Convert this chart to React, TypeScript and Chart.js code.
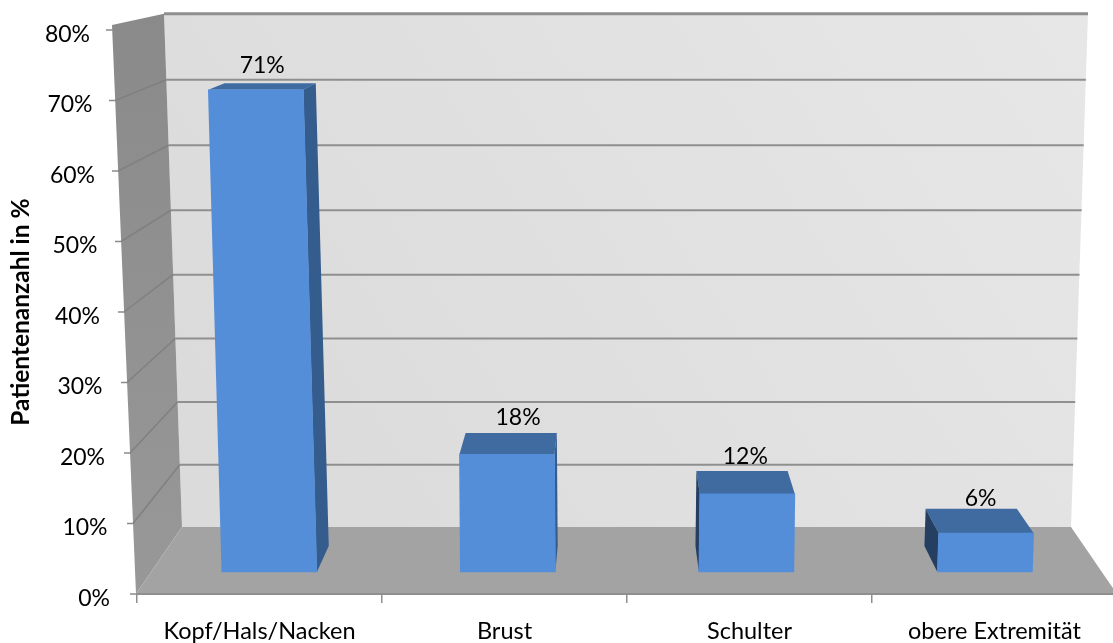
import React, { useEffect, useRef } from "react";
import { Chart, registerables, LinearScale, BarElement } from "chart.js";

const categories = ["Kopf/Hals/Nacken", "Brust", "Schulter", "obere Extremität"];
const patientPercent = [71, 18, 12, 6];
const axisMax = 80;
const axisStep = 10;
const axisTitle = "Patientenanzahl in %";
const fontFamily = "Lato, 'Open Sans', sans-serif";

// Perspective parameters of the 3D scene
const VANISH = { x: 614, y: -78 };
const DEPTH = 0.04;
const LEAN_CENTER = 600;
const LEAN = 8.5e-5;
const frontX = (v: number) => 136 - v * 0.3;
const backLeftX = (v: number) => 182 - v * 0.225;
const backRightX = (v: number) => 1071 + v * 0.2125;
const backY = (v: number) => 527 - 6.2 * v - 0.0027 * v * v;
// small hand adjustments of the value labels relative to their bars
const labelNudgeX = [1, 9.5, 0, 0];
const labelNudgeY = [0, -1, 0, 4];

class FloorDepthScale extends LinearScale {
  static id = "floorDepth";
  static defaults = LinearScale.defaults;
  getPixelForValue(v: number) {
    return this.bottom - 22 - 6.45 * v - 0.0048 * v * v;
  }
}

Chart.register(...registerables, FloorDepthScale);

const poly = (ctx: CanvasRenderingContext2D, pts: number[][], fill: string) => {
  ctx.beginPath();
  pts.forEach((p, i) => (i ? ctx.lineTo(p[0], p[1]) : ctx.moveTo(p[0], p[1])));
  ctx.closePath();
  ctx.fillStyle = fill;
  ctx.fill();
};
const extrude = (p: number[]) => [p[0] + DEPTH * (VANISH.x - p[0]), p[1] + DEPTH * (VANISH.y - p[1])];
const leanOf = (x: number) => (x - LEAN_CENTER) * LEAN;

const scenePlugin = {
  id: "scene3d",
  beforeDraw(chart: any) {
    const ctx: CanvasRenderingContext2D = chart.ctx;
    const y = chart.scales.y;
    const tickValues: number[] = y.ticks.map((t: any) => t.value);

    const items = y.getLabelItems();
    if (!items.__shifted) {
      items.forEach((it: any, i: number) => {
        it.options.translation[0] -= 27 + tickValues[i] * 0.25;
        it.options.translation[1] += 4.5;
      });
      items.__shifted = true;
    }

    ctx.save();
    // back wall
    const wall = ctx.createLinearGradient(1088, 14, 300, 527);
    wall.addColorStop(0, "#e7e7e7");
    wall.addColorStop(1, "#dbdbdb");
    poly(ctx, [[backLeftX(80), backY(80)], [backRightX(80), backY(80)], [backRightX(0), backY(0)], [backLeftX(0), backY(0)]], wall as any);
    // side wall
    const side = ctx.createLinearGradient(0, 20, 0, 590);
    side.addColorStop(0, "#8a8a8a");
    side.addColorStop(1, "#989898");
    poly(ctx, [
      [frontX(80), y.getPixelForValue(80) - 5],
      [backLeftX(80), backY(80)],
      [backLeftX(0), backY(0)],
      [frontX(0), y.getPixelForValue(0)],
    ], side as any);
    // floor
    poly(ctx, [
      [frontX(0), y.getPixelForValue(0)],
      [backLeftX(0), backY(0)],
      [backRightX(0), backY(0)],
      [1117, y.getPixelForValue(0)],
    ], "#a3a3a3");
    // gridlines
    tickValues.forEach((v) => {
      if (v > 0) {
        ctx.beginPath();
        ctx.moveTo(backLeftX(v), backY(v));
        ctx.lineTo(backRightX(v), backY(v));
        ctx.strokeStyle = "#8f8f8f";
        ctx.lineWidth = v === axisMax ? 3 : 2;
        ctx.stroke();
        if (v < axisMax) {
          ctx.beginPath();
          ctx.moveTo(frontX(v), y.getPixelForValue(v));
          ctx.lineTo(backLeftX(v), backY(v));
          ctx.strokeStyle = "#808080";
          ctx.lineWidth = 1.5;
          ctx.stroke();
        }
      }
      ctx.beginPath();
      ctx.moveTo(frontX(v) - 6, y.getPixelForValue(v));
      ctx.lineTo(frontX(v) + 1, y.getPixelForValue(v));
      ctx.strokeStyle = "#8a8a8a";
      ctx.lineWidth = 1.5;
      ctx.stroke();
    });
    ctx.restore();
  },
  beforeDatasetDraw(chart: any, args: any) {
    const ctx: CanvasRenderingContext2D = chart.ctx;
    const meta = chart.getDatasetMeta(args.index);
    meta.data.forEach((el: any) => {
      const k = leanOf(el.x);
      const h = el.base - el.y;
      const l = el.x - el.width / 2;
      const r = el.x + el.width / 2;
      const ftl = [l + k * h, el.y];
      const ftr = [r + k * h, el.y];
      const fbl = [l, el.base];
      const fbr = [r, el.base];
      poly(ctx, [ftl, ftr, extrude(ftr), extrude(ftl)], "#3f6ba1");
      if (el.x < VANISH.x) {
        poly(ctx, [ftr, extrude(ftr), extrude(fbr), fbr], "#345c8c");
      } else {
        poly(ctx, [ftl, extrude(ftl), extrude(fbl), fbl], "#243f62");
      }
      // lean of the front face follows the perspective of the scene
      if (!el.__leaning) {
        el.__leaning = true;
        el.draw = function (c: CanvasRenderingContext2D, area: any) {
          const kk = leanOf(this.x);
          c.save();
          c.transform(1, 0, -kk, 1, kk * this.base, 0);
          BarElement.prototype.draw.call(this, c, area);
          c.restore();
        };
      }
    });
  },
  afterDatasetsDraw(chart: any) {
    const ctx: CanvasRenderingContext2D = chart.ctx;
    const meta = chart.getDatasetMeta(0);
    ctx.save();
    ctx.font = `23px ${fontFamily}`;
    ctx.fillStyle = "#000";
    ctx.textAlign = "center";
    ctx.textBaseline = "middle";
    meta.data.forEach((el: any, i: number) => {
      const cx = el.x + leanOf(el.x) * (el.base - el.y);
      const lx = cx + 0.015 * (VANISH.x - cx) + labelNudgeX[i];
      const ly = el.y - 21 - 0.033 * el.y + labelNudgeY[i];
      ctx.fillText(`${patientPercent[i]}%`, lx, ly);
    });
    ctx.restore();
  },
};

export default function App() {
  const ref = useRef<HTMLCanvasElement>(null);
  useEffect(() => {
    const chart = new Chart(ref.current!, {
      type: "bar",
      data: {
        labels: categories,
        datasets: [
          {
            label: axisTitle,
            data: patientPercent.map((v, i) => ({ x: i, y: v })),
            xAxisID: "barX",
            yAxisID: "barY",
            backgroundColor: "#558ed8",
            borderWidth: 0,
            barThickness: 95,
            clip: false,
          } as any,
        ],
      },
      options: {
        animation: false,
        responsive: false,
        maintainAspectRatio: false,
        events: [],
        layout: { autoPadding: false, padding: { top: 30, right: 8, left: 0, bottom: 0 } },
        plugins: { legend: { display: false }, tooltip: { enabled: false } },
        scales: {
          x: {
            type: "category",
            offset: true,
            position: "bottom",
            border: { color: "#8f8f8f", width: 2 },
            grid: { offset: true, drawOnChartArea: false, color: "#8f8f8f", tickLength: 9, lineWidth: 1.5 },
            ticks: {
              maxRotation: 0,
              autoSkip: false,
              color: "#000",
              padding: 14,
              font: { family: fontFamily, size: 23.5 },
            },
            afterFit: (s: any) => { s.height = 49; },
          },
          y: {
            type: "linear",
            position: "left",
            min: 0,
            max: axisMax,
            border: { display: false },
            grid: { display: false, drawTicks: false },
            ticks: {
              stepSize: axisStep,
              color: "#000",
              padding: 0,
              font: { family: fontFamily, size: 23 },
              callback: (v: any) => `${v}%`,
            },
            title: {
              display: true,
              text: axisTitle,
              color: "#000",
              padding: { top: 6, bottom: 0 },
              font: { family: fontFamily, size: 24.5, weight: "bold" },
            },
            afterFit: (s: any) => { s.width = 137; },
          },
          barX: { type: "linear", display: false, min: -0.555, max: 3.554, offset: false, grid: { offset: false } },
          barY: { type: "floorDepth", display: false, min: 0, max: axisMax },
        } as any,
      },
      plugins: [scenePlugin as any],
    });
    return () => chart.destroy();
  }, []);
  return (
    <div style={{ position: "absolute", left: 0, top: 0, width: 1113, height: 643, overflow: "hidden", background: "#fff" }}>
      <canvas ref={ref} width={1125} height={643} style={{ display: "block", filter: "blur(0.5px)" }} />
    </div>
  );
}
